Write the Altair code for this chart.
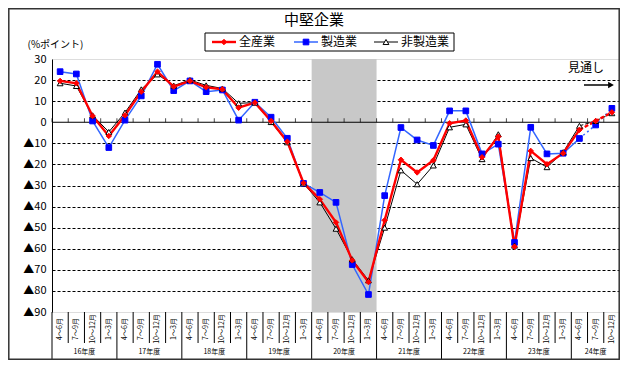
import altair as alt
import pandas as pd

# ---------------- data ----------------
title_text = "中堅企業"
unit_text = "(%ポイント)"
forecast_text = "見通し"
years = ["16年度", "17年度", "18年度", "19年度", "20年度", "21年度", "22年度", "23年度", "24年度"]
quarters = ["4～6月", "7～9月", "10～12月", "1～3月"]
shaded_year = "20年度"
series_names = ["全産業", "製造業", "非製造業"]

all_industries = [19.6, 18.5, 3.0, -6.5, 3.3, 14.5, 24.0, 16.9, 19.6, 16.6, 15.6, 6.9,
                  9.3, 0.6, -9.2, -28.8, -36.5, -47.5, -65.5, -75.8, -46.5, -17.8, -23.8, -18.0,
                  -0.5, 0.8, -16.6, -6.8, -59.0, -13.6, -19.9, -14.7, -3.6, 0.6, 4.7]
manufacturing = [24.0, 22.9, 0.6, -12.0, 1.0, 12.5, 27.5, 15.0, 19.6, 14.5, 15.3, 1.0,
                 9.5, 2.4, -7.6, -29.0, -33.3, -38.0, -67.5, -81.7, -34.8, -2.5, -8.4, -11.0,
                 5.4, 5.4, -15.0, -10.4, -57.0, -2.4, -15.0, -14.7, -7.7, -1.3, 6.6]
non_manufacturing = [18.5, 17.2, 3.3, -4.6, 4.6, 15.6, 22.7, 17.4, 20.0, 17.5, 16.0, 9.0,
                     9.3, 0.1, -9.5, -29.0, -38.0, -50.5, -65.0, -75.0, -50.0, -22.8, -29.4, -20.5,
                     -2.4, -1.0, -17.5, -5.7, -58.5, -17.0, -21.3, -14.2, -1.7, 0.6, 4.3]
last_actual_index = 32  # 24年度 4～6月; later quarters are 見通し

# ---------------- tables ----------------
n = len(all_industries)
cats = pd.DataFrame({
    "idx": list(range(n)),
    "pos": [i + 0.5 for i in range(n)],
    "quarter": [quarters[i % 4] for i in range(n)],
    "year": [years[i // 4] for i in range(n)],
})
year_tbl = cats.groupby("year", sort=False)["pos"].mean().reset_index()
bounds = pd.DataFrame({"b": list(range(n + 1))})
bounds["long"] = [(b % 4 == 0) or (b == n) for b in bounds["b"]]

values_by_series = dict(zip(series_names, [all_industries, manufacturing, non_manufacturing]))
s0 = years.index(shaded_year) * 4
shade = pd.DataFrame({"x0": [s0], "x1": [min(s0 + 4, n)]})

W, H = 568, 253
FONT = "Noto Sans CJK JP"
xs = alt.Scale(domain=[0, n], nice=False, zero=False)
ys = alt.Scale(domain=[-90, 30], nice=False, zero=False)

y_axis = alt.Axis(
    values=list(range(-90, 31, 10)),
    labelExpr="datum.value < 0 ? '▲' + abs(datum.value) : '' + datum.value",
    labelFont=FONT, labelFontSize=11, labelColor="black", labelPadding=6,
    tickSize=0, domainColor="black", domainWidth=1,
    grid=True, gridColor="black", gridWidth=1, gridDash=[3, 2],
    gridOpacity={"condition": {"test": "datum.value === 30 || datum.value === -90 || datum.value === 0",
                               "value": 0}, "value": 1},
    title=unit_text, titleAngle=0, titleAlign="left", titleBaseline="middle",
    titleX=-25, titleY=-15, titleFont=FONT, titleFontSize=10, titleFontWeight="normal",
    titleColor="black",
)

layers = []

# shaded 20年度 band
layers.append(alt.Chart(shade).mark_rect(color="#c8c8c8").encode(
    x=alt.X("x0:Q", scale=xs, axis=None), x2="x1:Q",
    y=alt.Y(datum=30, scale=ys, axis=y_axis), y2=alt.datum(-90)))

# zero line
layers.append(alt.Chart(alt.Data(values=[{}])).mark_rule(color="black", strokeWidth=1).encode(
    y=alt.Y(datum=0, scale=ys, axis=y_axis)))

# small ticks on the zero line
layers.append(alt.Chart(bounds).mark_tick(orient="vertical", color="black", size=4, thickness=1, yOffset=-2).encode(
    x=alt.X("b:Q", scale=xs, axis=None), y=alt.Y(datum=0, scale=ys, axis=y_axis)))

styles = {
    "製造業": dict(line="#3366ff", width=1.5, dash=[2, 3], shape="square", fill="#0000ff", stroke="#0000ff", size=32),
    "非製造業": dict(line="black", width=1, dash=[4, 2], shape="triangle-up", fill="white", stroke="black", size=34),
    "全産業": dict(line="#ff0000", width=2.4, dash=[4, 2], shape="diamond", fill="#ff0000", stroke="#ff0000", size=30),
}
draw_order = ["製造業", "非製造業", "全産業"]

frames = {}
for s in series_names:
    df = cats.copy()
    df["value"] = values_by_series[s]
    frames[s] = df

for s in draw_order:
    st = styles[s]
    df = frames[s]
    enc = dict(x=alt.X("pos:Q", scale=xs, axis=None), y=alt.Y("value:Q", scale=ys, axis=y_axis))
    layers.append(alt.Chart(df[df["idx"] <= last_actual_index]).mark_line(
        color=st["line"], strokeWidth=st["width"]).encode(**enc))
    layers.append(alt.Chart(df[df["idx"] >= last_actual_index]).mark_line(
        color=st["line"], strokeWidth=st["width"], strokeDash=st["dash"]).encode(**enc))
for s in draw_order:
    st = styles[s]
    df = frames[s]
    layers.append(alt.Chart(df).mark_point(
        shape=st["shape"], filled=True, fill=st["fill"], stroke=st["stroke"], strokeWidth=1,
        size=st["size"], opacity=1).encode(
        x=alt.X("pos:Q", scale=xs, axis=None), y=alt.Y("value:Q", scale=ys, axis=y_axis)))

# category axis below plot
layers.append(alt.Chart(bounds[~bounds["long"]]).mark_rule(color="black", strokeWidth=1).encode(
    x=alt.X("b:Q", scale=xs, axis=None), y=alt.value(H), y2=alt.value(H + 31)))
layers.append(alt.Chart(bounds[bounds["long"]]).mark_rule(color="black", strokeWidth=1).encode(
    x=alt.X("b:Q", scale=xs, axis=None), y=alt.value(H), y2=alt.value(H + 47)))
layers.append(alt.Chart(cats).mark_text(angle=270, font=FONT, fontSize=7, align="center",
                                        baseline="middle", color="black").encode(
    x=alt.X("pos:Q", scale=xs, axis=None), y=alt.value(H + 17), text="quarter:N"))
layers.append(alt.Chart(year_tbl).mark_text(font=FONT, fontSize=7, align="center",
                                            baseline="middle", color="black").encode(
    x=alt.X("pos:Q", scale=xs, axis=None), y=alt.value(H + 40), text="year:N"))

# title
one = alt.Data(values=[{}])
layers.append(alt.Chart(one).mark_text(text=title_text, font=FONT, fontSize=15, align="center",
                                       baseline="middle", color="black").encode(
    x=alt.value(262), y=alt.value(-39)))

# legend box
layers.append(alt.Chart(one).mark_rect(fill="white", stroke="black", strokeWidth=1).encode(
    x=alt.value(153), x2=alt.value(402), y=alt.value(-26), y2=alt.value(-8)))
leg_x = {"全産業": 160, "製造業": 242, "非製造業": 322}
for s in series_names:
    st = styles[s]
    lx = leg_x[s]
    layers.append(alt.Chart(one).mark_rule(color=st["line"], strokeWidth=st["width"]).encode(
        x=alt.value(lx), x2=alt.value(lx + 24), y=alt.value(-17)))
    layers.append(alt.Chart(one).mark_point(shape=st["shape"], filled=True, fill=st["fill"],
                                            stroke=st["stroke"], strokeWidth=1, size=st["size"],
                                            opacity=1).encode(
        x=alt.value(lx + 12), y=alt.value(-17)))
    layers.append(alt.Chart(one).mark_text(text=s, font=FONT, fontSize=12, align="left",
                                           baseline="middle", color="black").encode(
        x=alt.value(lx + 27), y=alt.value(-17)))

# 見通し marker
layers.append(alt.Chart(one).mark_text(text=forecast_text, font=FONT, fontSize=12, align="center",
                                       baseline="middle", color="black").encode(
    x=alt.value(534), y=alt.value(9)))
layers.append(alt.Chart(one).mark_rule(color="black", strokeWidth=1.5).encode(
    x=alt.value(532), x2=alt.value(558), y=alt.value(26)))
layers.append(alt.Chart(one).mark_point(shape="triangle-right", filled=True, color="black",
                                        size=45, opacity=1).encode(
    x=alt.value(559), y=alt.value(26)))

# outer frame
layers.append(alt.Chart(one).mark_rect(fill=None, stroke="#333333", strokeWidth=1.5).encode(
    x=alt.value(-43.2), x2=alt.value(W - 0.8), y=alt.value(-50.2), y2=alt.value(H + 47.2)))

chart = alt.layer(*layers).properties(
    width=W, height=H,
    autosize=alt.AutoSizeParams(type="none"),
    padding={"left": 44, "top": 51, "right": 0, "bottom": 48},
).configure_view(stroke="#999999", strokeDash=[2, 2], strokeWidth=1).configure(background="white")

chart.save("out.html", embed_options={"renderer": "svg", "actions": False})
